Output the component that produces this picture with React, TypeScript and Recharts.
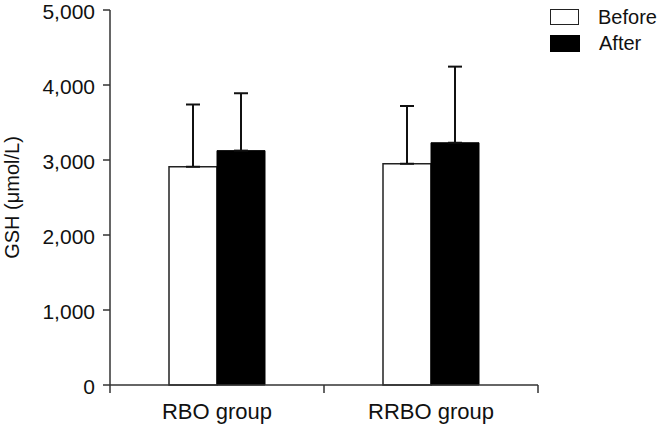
import { BarChart, Bar, XAxis, YAxis, ErrorBar, Text } from "recharts";

const groups = ["RBO group", "RRBO group"];
const beforeMeans = [2910, 2950];
const afterMeans = [3125, 3230];
const beforeSD = [830, 770];
const afterSD = [765, 1015];
const yTicks = [0, 1000, 2000, 3000, 4000, 5000];

const data = groups.map((g, i) => ({
  group: g,
  before: beforeMeans[i],
  after: afterMeans[i],
  beforeErr: [0, beforeSD[i]],
  afterErr: [0, afterSD[i]],
}));

const FONT = '"Liberation Sans", Arial, sans-serif';
const AXIS = "#333";
const TICK_LEN = 8;
const TICK_GAP = 10;

const GroupTick = (props: any) => {
  const { x, y, payload, index, visibleTicksCount, width } = props;
  const band = width / visibleTicksCount;
  const axisY = y - TICK_LEN - TICK_GAP;
  const left = x - band / 2;
  return (
    <g>
      <line x1={left} y1={axisY} x2={left} y2={axisY + TICK_LEN} stroke={AXIS} strokeWidth={1.5} />
      {index === visibleTicksCount - 1 && (
        <line x1={left + band} y1={axisY} x2={left + band} y2={axisY + TICK_LEN} stroke={AXIS} strokeWidth={1.5} />
      )}
      <Text x={x} y={y} textAnchor="middle" verticalAnchor="start" fontSize={22} fill="#111" fontFamily={FONT}>
        {payload.value}
      </Text>
    </g>
  );
};

// legend drawn beside the chart so it doesn't eat plot space
const LegendBox = () => (
  <div
    style={{
      position: "absolute",
      top: 4,
      left: 550,
      fontFamily: FONT,
      fontSize: 20,
      color: "#111",
      lineHeight: "26px",
    }}
  >
    <div style={{ display: "flex", alignItems: "center" }}>
      <span style={{ width: 27, height: 14, border: "1.5px solid #222", background: "#fff", marginRight: 19 }} />
      Before
    </div>
    <div style={{ display: "flex", alignItems: "center" }}>
      <span style={{ width: 30, height: 17, background: "#000", marginRight: 19 }} />
      After
    </div>
  </div>
);

export default function App() {
  return (
    <div style={{ position: "absolute", left: 0, top: 0, width: 664, height: 425, background: "#fff" }}>
      <BarChart
        width={664}
        height={425}
        data={data}
        margin={{ top: 10, right: 126, bottom: 0, left: 0 }}
        barGap={0}
        barSize={48}
      >
        <XAxis
          dataKey="group"
          height={40}
          stroke={AXIS}
          strokeWidth={1.5}
          tickLine={false}
          tickSize={TICK_LEN}
          tickMargin={TICK_GAP}
          tick={<GroupTick />}
          interval={0}
        />
        <YAxis
          width={110}
          domain={[0, 5000]}
          ticks={yTicks}
          interval={0}
          stroke={AXIS}
          strokeWidth={1.5}
          tickSize={7}
          tickMargin={8}
          tick={{ fontSize: 21, fill: "#111", fontFamily: FONT, dy: 2 }}
          tickFormatter={(v: number) => v.toLocaleString("en-US")}
          label={{
            value: "GSH (μmol/L)",
            angle: -90,
            position: "insideLeft",
            offset: 12,
            style: { textAnchor: "middle", fontSize: 20, fill: "#111", fontFamily: FONT },
          }}
        />
        <Bar dataKey="before" name="Before" fill="#fff" stroke="#222" strokeWidth={1.5} isAnimationActive={false}>
          <ErrorBar dataKey="beforeErr" width={7} stroke="#111" strokeWidth={2} direction="y" />
        </Bar>
        <Bar dataKey="after" name="After" fill="#000" stroke="#000" isAnimationActive={false}>
          <ErrorBar dataKey="afterErr" width={7} stroke="#111" strokeWidth={2} direction="y" />
        </Bar>
      </BarChart>
      <LegendBox />
    </div>
  );
}
